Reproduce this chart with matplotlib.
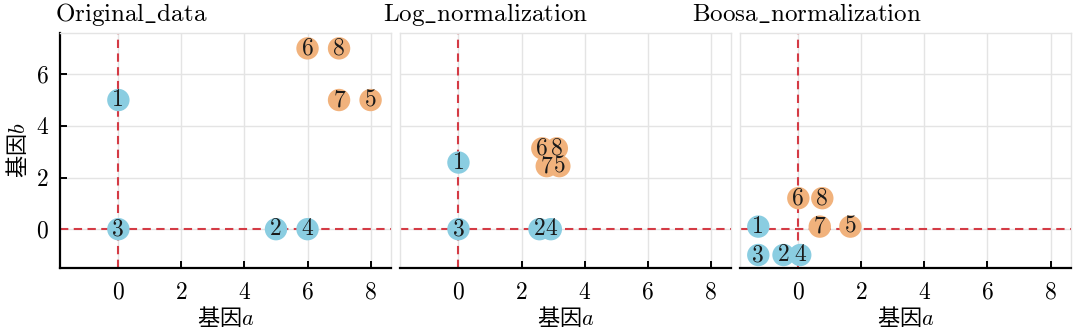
import matplotlib
matplotlib.use('Agg')
import matplotlib.pyplot as plt

plt.rcParams['font.family'] = ['cmr10', 'DejaVu Serif']
plt.rcParams['mathtext.fontset'] = 'cm'
plt.rcParams['axes.unicode_minus'] = False
plt.rcParams['axes.formatter.use_mathtext'] = True

TITLES = [r'$\mathrm{Original\_data}$',
          r'$\mathrm{Log\_normalization}$',
          r'$\mathrm{Boosa\_normalization}$']

# sample ids: 1-4 are group A (blue), 5-8 are group B (orange)
ids_a = ['1', '2', '3', '4']
ids_b = ['5', '6', '7', '8']

# original counts
orig_a_x = [0, 5, 0, 6]
orig_a_y = [5, 0, 0, 0]
orig_b_x = [8, 6, 7, 7]
orig_b_y = [5, 7, 5, 7]

# log normalized
log_a_x = [0, 2.57, 0, 2.93]
log_a_y = [2.58, 0, 0, 0]
log_b_x = [3.2, 2.66, 2.8, 3.12]
log_b_y = [2.44, 3.13, 2.44, 3.13]

# boosa normalized
boosa_a_x = [-1.27, -0.47, -1.27, 0.06]
boosa_a_y = [0.1, -1.0, -1.0, -1.0]
boosa_b_x = [1.65, 0.0, 0.68, 0.76]
boosa_b_y = [0.1, 1.2, 0.1, 1.2]

panels = [
    (orig_a_x, orig_a_y, orig_b_x, orig_b_y),
    (log_a_x, log_a_y, log_b_x, log_b_y),
    (boosa_a_x, boosa_a_y, boosa_b_x, boosa_b_y),
]

BLUE = '#8acde1'
ORANGE = '#f1b27c'
RED = '#d43b45'
GRID = '#e4e4e4'
CJK = ['Noto Sans CJK SC', 'DejaVu Sans']

fig = plt.figure(figsize=(10.8, 3.32), dpi=100)
lefts = [0.0556, 0.3705, 0.6852]
title_x = [0.051, 0.355, 0.641]
axes = []
for left in lefts:
    ax = fig.add_axes([left, 0.193, 0.3065, 0.708],
                      sharey=axes[0] if axes else None)
    axes.append(ax)

for i, (ax, (ax_, ay_, bx_, by_)) in enumerate(zip(axes, panels)):
    ax.set_xlim(-1.85, 8.65)
    ax.set_ylim(-1.5, 7.6)
    ax.set_xticks([0, 2, 4, 6, 8])
    ax.set_yticks([0, 2, 4, 6])
    ax.grid(True, color=GRID, lw=1.0, zorder=0)
    ax.set_axisbelow(True)

    ax.axhline(0, color=RED, lw=1.5, dashes=(4, 2.6), zorder=1)
    ax.axvline(0, color=RED, lw=1.5, dashes=(4, 2.6), zorder=1)

    ax.scatter(ax_, ay_, s=260, color=BLUE, edgecolors='none', zorder=2)
    ax.scatter(bx_, by_, s=260, color=ORANGE, edgecolors='none', zorder=2)
    for lab, x, y in zip(ids_a + ids_b, ax_ + bx_, ay_ + by_):
        ax.text(x, y, lab, ha='center', va='center', fontsize=17,
                color='#1a1a1a', zorder=3)

    for side in ('top', 'right', 'left'):
        ax.spines[side].set_color(GRID)
        ax.spines[side].set_linewidth(1.0)
    ax.spines['bottom'].set_color('black')
    ax.spines['bottom'].set_linewidth(1.6)
    ax.tick_params(axis='x', direction='in', length=5, width=1.4,
                   labelsize=17, pad=10)
    if i == 0:
        ax.spines['left'].set_color('black')
        ax.spines['left'].set_linewidth(1.6)
        ax.tick_params(axis='y', direction='in', length=5, width=1.4,
                       labelsize=17, pad=8)
        ax.set_ylabel('基因$b$', family=CJK, fontsize=16, labelpad=4)
    else:
        ax.tick_params(axis='y', left=False, labelleft=False)

    ax.set_xlabel('基因$a$', family=CJK, fontsize=16, labelpad=1)
    fig.text(title_x[i], 0.937, TITLES[i], fontsize=18, ha='left',
             va='baseline')

fig.savefig('out.png', dpi=100)
